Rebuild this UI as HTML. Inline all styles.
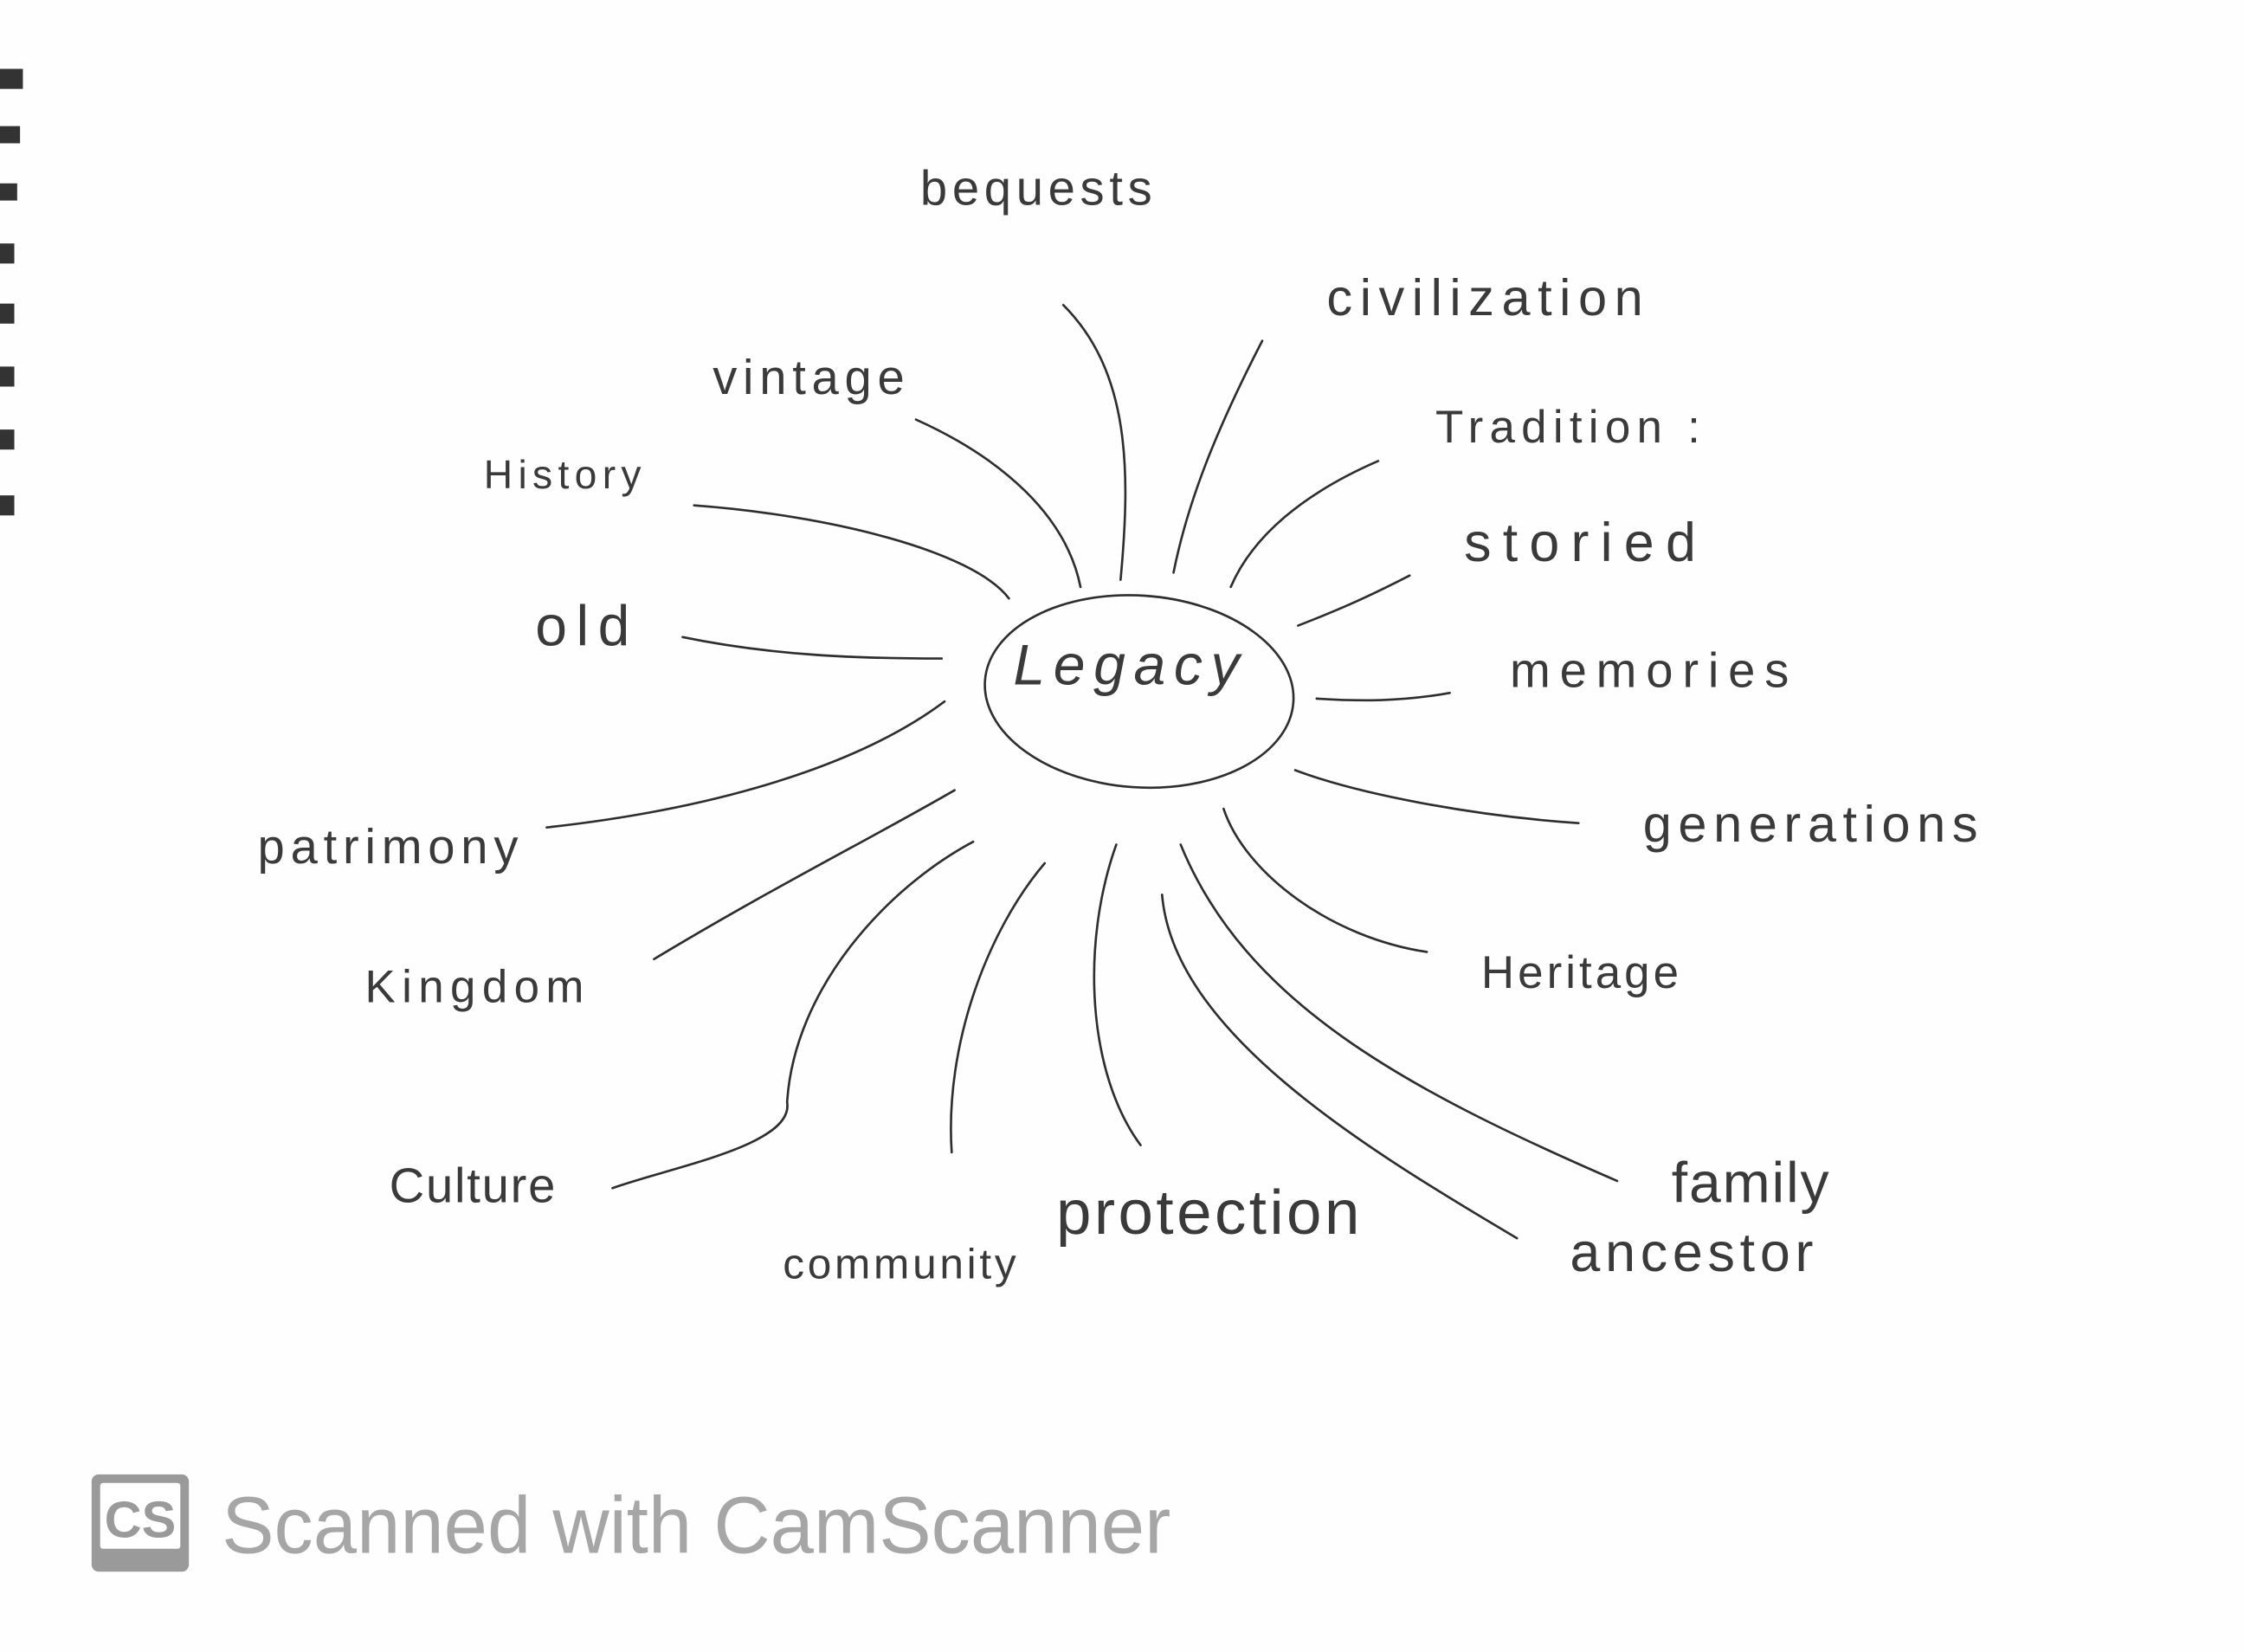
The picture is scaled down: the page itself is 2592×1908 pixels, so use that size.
<!DOCTYPE html>
<html><head><meta charset="utf-8"><style>
html,body{margin:0;padding:0;background:#fff;width:2592px;height:1908px;overflow:hidden}
svg{display:block}
.w{font-family:"Liberation Sans",sans-serif;fill:#3a3a3a;font-weight:normal}
.l{fill:none;stroke:#2e2e2e;stroke-width:1.6;stroke-linecap:round}
</style></head><body>
<svg width="2592" height="1908" viewBox="0 0 1568 1154">
<rect width="1568" height="1154" fill="#fefefe"/>
<g fill="#333">
<rect x="0" y="48" width="16" height="14"/><rect x="0" y="88" width="14" height="12"/><rect x="0" y="128" width="12" height="12"/>
<rect x="0" y="170" width="10" height="14"/><rect x="0" y="212" width="10" height="14"/><rect x="0" y="256" width="10" height="14"/>
<rect x="0" y="300" width="10" height="14"/><rect x="0" y="346" width="10" height="14"/>
</g>
<ellipse cx="796" cy="483" rx="108" ry="67" transform="rotate(4 796 483)" class="l"/>
<text class="w" x="708" y="478" font-size="40" font-style="italic" textLength="158" lengthAdjust="spacing">Legacy</text>
<g>
<path class="l" d="M743 213 C790 260 790 330 783 405"/>
<path class="l" d="M882 238 C850 300 830 350 820 400"/>
<path class="l" d="M963 322 C910 345 875 375 860 410"/>
<path class="l" d="M985 402 C950 420 930 428 907 437"/>
<path class="l" d="M1013 484 C980 490 950 490 920 488"/>
<path class="l" d="M1103 575 C1030 570 950 555 905 538"/>
<path class="l" d="M997 665 C930 655 870 610 855 565"/>
<path class="l" d="M1130 825 C980 760 870 700 825 590"/>
<path class="l" d="M1060 865 C950 800 820 720 812 625"/>
<path class="l" d="M797 800 C760 750 755 660 780 590"/>
<path class="l" d="M665 805 C660 730 690 650 730 603"/>
<path class="l" d="M428 830 C470 815 555 800 550 770 C555 690 620 620 680 588"/>
<path class="l" d="M457 670 C540 620 610 585 667 552"/>
<path class="l" d="M382 578 C500 565 600 535 660 490"/>
<path class="l" d="M477 445 C540 458 600 460 658 460"/>
<path class="l" d="M485 353 C580 360 680 385 705 418"/>
<path class="l" d="M640 293 C700 320 745 360 755 410"/>
</g>
<g>
<text class="w" x="643" y="143" font-size="34" textLength="162" lengthAdjust="spacing">bequests</text>
<text class="w" x="927" y="220" font-size="36" textLength="221" lengthAdjust="spacing">civilization</text>
<text class="w" x="498" y="275" font-size="34" textLength="134" lengthAdjust="spacing">vintage</text>
<text class="w" x="1003" y="309" font-size="32" textLength="185" lengthAdjust="spacing">Tradition :</text>
<text class="w" x="338" y="341" font-size="28" textLength="110" lengthAdjust="spacing">History</text>
<text class="w" x="1023" y="392" font-size="38" textLength="162" lengthAdjust="spacing">storied</text>
<text class="w" x="374" y="451" font-size="40" textLength="66" lengthAdjust="spacing">old</text>
<text class="w" x="1055" y="480" font-size="34" textLength="195" lengthAdjust="spacing">memories</text>
<text class="w" x="1148" y="588" font-size="36" textLength="234" lengthAdjust="spacing">generations</text>
<text class="w" x="180" y="603" font-size="34" fill="#777" textLength="182" lengthAdjust="spacing">patrimony</text>
<text class="w" x="1035" y="690" font-size="32" textLength="138" lengthAdjust="spacing">Heritage</text>
<text class="w" x="255" y="700" font-size="32" fill="#888" textLength="153" lengthAdjust="spacing">Kingdom</text>
<text class="w" x="1168" y="840" font-size="40" textLength="110" lengthAdjust="spacing">family</text>
<text class="w" x="272" y="840" font-size="34" textLength="116" lengthAdjust="spacing">Culture</text>
<text class="w" x="738" y="862" font-size="44" textLength="212" lengthAdjust="spacing">protection</text>
<text class="w" x="1097" y="888" font-size="38" textLength="170" lengthAdjust="spacing">ancestor</text>
<text class="w" x="547" y="893" font-size="30" textLength="163" lengthAdjust="spacing">community</text>
</g>
<g>
<rect x="64" y="1030" width="68" height="68" rx="5" fill="#9a9a9a"/>
<rect x="70" y="1036" width="56" height="46" rx="2" fill="#fff"/>
<text x="73" y="1074" font-family="Liberation Sans,sans-serif" font-weight="bold" font-size="36" fill="#9a9a9a">CS</text>
<text x="155" y="1085" font-family="Liberation Sans,sans-serif" font-size="56" fill="#a6a6a6" textLength="663" lengthAdjust="spacingAndGlyphs">Scanned with CamScanner</text>
</g>
</svg>
</body></html>
